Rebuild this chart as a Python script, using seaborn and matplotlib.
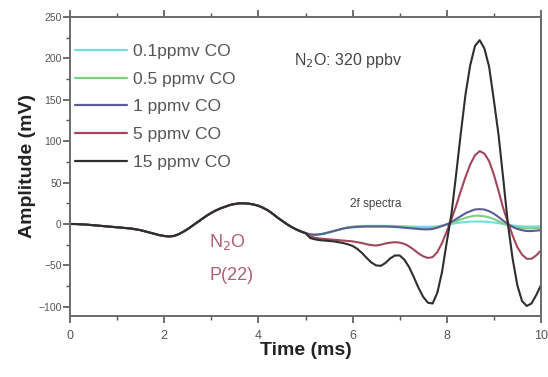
import numpy as np
import pandas as pd
import matplotlib
matplotlib.use("Agg")
import matplotlib.pyplot as plt
import seaborn as sns
from matplotlib.ticker import MultipleLocator

# ---------------- data ----------------
time_ms = [round(0.1 * i, 1) for i in range(101)]

common = [0, 0, -0.3, -0.6, -1, -1.5, -2, -2.5, -3, -3.5,
          -4, -4.5, -5, -5.5, -6.5, -7.5, -9, -10.5, -12, -13.5,
          -14.5, -15, -14.5, -12.5, -9.5, -6, -2, 2, 6, 10,
          13.5, 16.5, 19, 21, 23, 24.2, 25, 25, 24.5, 23.5,
          22, 19.5, 16.5, 12.5, 8, 4, 0, -3.5, -6.5, -9,
          -11]

tail_01 = [-12.5, -13, -12.5, -11.5, -10, -8.5, -7, -5.5, -4, -3,
           -2.5, -2.3, -2.2, -2.2, -2.2, -2.2, -2.2, -2.3, -2.4, -2.5,
           -2.7, -2.9, -3.1, -3.3, -3.4, -3.4, -3.2, -2.8, -2, -1,
           0, 1, 1.8, 2.4, 2.8, 3, 3, 2.8, 2.4, 1.8,
           1, 0, -1, -1.8, -2.4, -2.8, -3, -3, -3, -3]

tail_05 = [-12.5, -13, -12.5, -11.5, -10, -8.5, -7, -5.5, -4.3, -3.5,
           -3, -2.8, -2.7, -2.7, -2.7, -2.7, -2.8, -3, -3.2, -3.5,
           -3.8, -4.2, -4.6, -5, -5.2, -5.2, -4.8, -3.6, -2, -0.3,
           1.5, 3.5, 5.5, 7.5, 9, 10, 10, 9.3, 8, 6,
           3.5, 0.5, -1.8, -3.5, -4.5, -5, -5.2, -5.2, -5, -5]

tail_1 = [-12.5, -13, -12.5, -11.5, -10, -8.5, -7, -5.5, -4.5, -4,
          -3.5, -3.2, -3, -3, -3, -3, -3, -3.2, -3.5, -4,
          -4.5, -5, -5.5, -6, -6.5, -6.5, -6, -4.5, -2.5, -0.5,
          2.5, 6, 9.5, 13, 15.5, 17.5, 18, 17.5, 15.5, 12.5,
          8.5, 4, 0, -3.5, -6, -7.5, -8.5, -8.5, -8, -7.5]

tail_5 = [-15, -16.5, -17.5, -18, -18.5, -19, -19.5, -20, -20.5, -21,
          -22, -23, -24.5, -25.5, -26, -25, -23.5, -22.5, -22, -22.5,
          -24, -27, -31, -35.5, -39, -41, -40, -34, -23, -9,
          6, 22, 40, 57, 72, 83, 88, 85, 76, 60,
          40, 19, 2, -14, -28, -37, -42, -42, -38, -32]

tail_15 = [-17, -18.5, -19.5, -20, -20.5, -21, -22, -23, -24.5, -26.5,
           -30, -35, -41, -46.5, -50, -50.5, -47, -41.5, -38, -38,
           -43, -52, -64, -77, -88, -95, -96, -83, -58, -22,
           12, 60, 110, 157, 192, 215, 222, 212, 190, 150,
           108, 55, 0, -42, -74, -93, -99, -96, -86, -74]

labels = ["0.1ppmv CO", "0.5 ppmv CO", "1 ppmv CO", "5 ppmv CO", "15 ppmv CO"]
series = [common + tail_01, common + tail_05, common + tail_1,
          common + tail_5, common + tail_15]
colors = ["#6fdede", "#7fcf7f", "#5c5c96", "#a4465a", "#2e2e2e"]

df = pd.concat([pd.DataFrame({"Time": time_ms, "Amplitude": s, "Series": lab})
                for s, lab in zip(series, labels)], ignore_index=True)

# ---------------- plot ----------------
sns.set_style("white")
plt.rcParams["font.family"] = ["Liberation Sans", "DejaVu Sans"]

fig = plt.figure(figsize=(5.48, 3.77), dpi=100)
ax = fig.add_axes([0.128, 0.162, 0.859, 0.793])

sns.lineplot(data=df, x="Time", y="Amplitude", hue="Series",
             hue_order=labels, palette=colors, linewidth=1.5, ax=ax,
             legend=True)

ax.set_xlim(0, 10)
ax.set_ylim(-111, 250)
ax.xaxis.set_major_locator(MultipleLocator(2))
ax.xaxis.set_minor_locator(MultipleLocator(1))
ax.yaxis.set_major_locator(MultipleLocator(50))
ax.yaxis.set_minor_locator(MultipleLocator(25))

for sp in ax.spines.values():
    sp.set_color("#6a6a6a")
    sp.set_linewidth(1.4)
    sp.set_visible(True)

ax.tick_params(axis="x", which="both", bottom=True, top=True,
               labelbottom=True, labeltop=False, color="#555555")
ax.tick_params(axis="x", which="major", direction="out", length=5, width=1.2,
               labelsize=9, labelcolor="#555555", pad=5)
ax.tick_params(axis="x", which="minor", direction="out", length=3, width=1)
ax.tick_params(axis="y", which="both", left=True, right=False,
               direction="out", color="#555555")
ax.tick_params(axis="y", which="major", length=5, width=1.2, labelsize=7.5,
               labelcolor="#555555", pad=1)
ax.tick_params(axis="y", which="minor", length=3, width=1)

ax.set_xlabel("Time (ms)", fontsize=14, fontweight="bold", color="#222222",
              labelpad=0)
ax.set_ylabel("Amplitude (mV)", fontsize=14, fontweight="bold",
              color="#222222", labelpad=2)

handles, labs = ax.get_legend_handles_labels()
leg = ax.legend(handles, labs, loc="upper left", frameon=False,
                fontsize=12.5, handlelength=3.0, handletextpad=0.35,
                labelspacing=0.72, borderaxespad=0.2,
                bbox_to_anchor=(-0.012, 0.945))
for t in leg.get_texts():
    t.set_color("#555555")
for h in leg.get_lines():
    h.set_linewidth(1.6)

ax.text(4.75, 197, "N$_2$O: 320 ppbv", fontsize=11.5, color="#444444",
        ha="left", va="center")
ax.text(6.5, 24, "2f spectra", fontsize=8.5, color="#444444",
        ha="center", va="center")
ax.text(2.95, -22, "N$_2$O", fontsize=13, color="#b0606e",
        ha="left", va="center")
ax.text(2.95, -62, "P(22)", fontsize=13, color="#b0606e",
        ha="left", va="center")

fig.savefig("out.png", dpi=100)
